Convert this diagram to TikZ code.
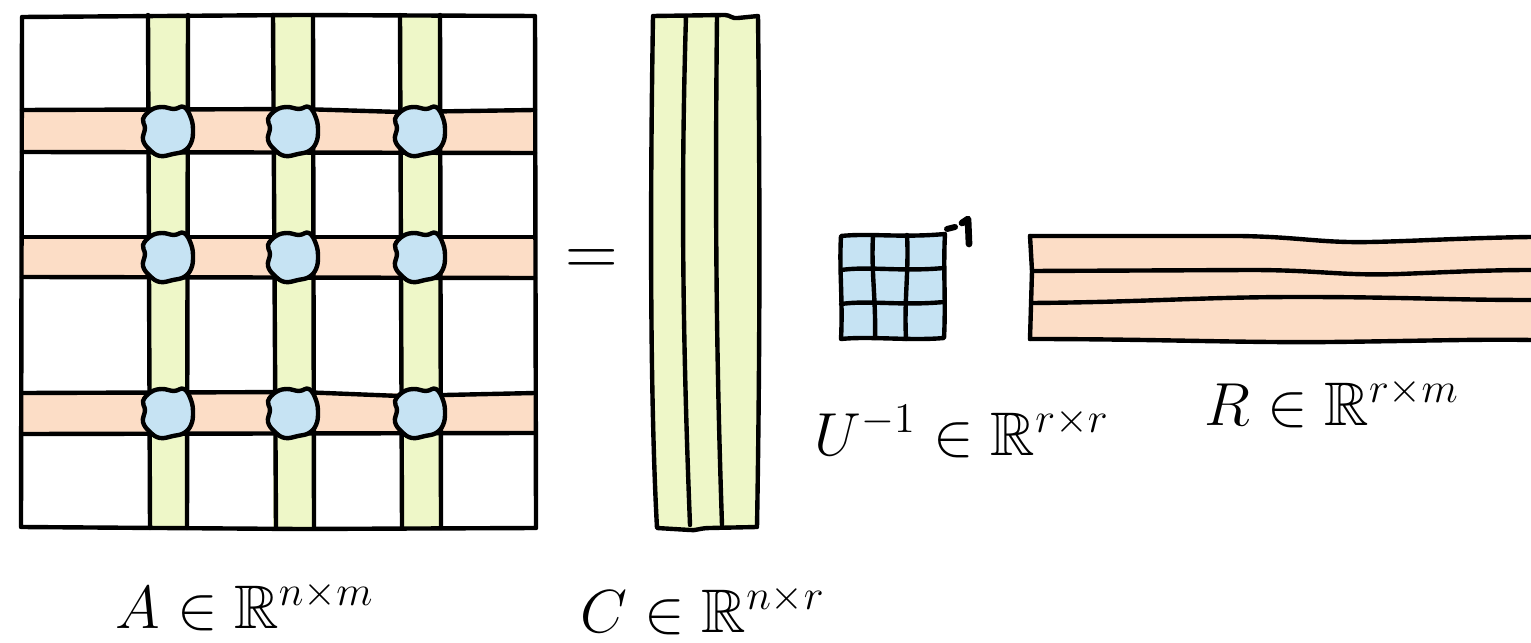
\documentclass[tikz,border=0pt]{standalone}
\usepackage{amsmath,amssymb}
\definecolor{cgreen}{HTML}{EEF7C8}
\definecolor{corange}{HTML}{FCDDC6}
\definecolor{cblue}{HTML}{C6E3F3}
\tikzset{
  ink/.style={line width=1.25pt, line cap=round, line join=round, draw=black},
  blob/.pic={\filldraw[ink, fill=cblue] plot[smooth cycle, tension=0.7] coordinates {(25,0) (23,12) (16,20) (5,23) (-8,25) (-18,19) (-25,9) (-23,-3) (-25,-12) (-17,-21) (-6,-24) (6,-22) (16,-24) (23,-13)};},
  lbl/.style={anchor=base, inner sep=0pt, font=\fontsize{17.5}{20}\selectfont}
}
\begin{document}
\begin{tikzpicture}[x=0.01cm,y=-0.01cm]
\useasboundingbox (0,0) rectangle (1531,643);
% ---------- matrix A ----------
\foreach \a/\b in {148/188, 273/313, 400/440}
  \fill[cgreen] (\a,15) rectangle (\b,528);
\foreach \a/\b in {110/152, 237/277, 393/433}
  \fill[corange] (22,\a) rectangle (535,\b);
\draw[ink] (22,17) -- (300,15) -- (535,16) -- (536,528) -- (300,529) -- (21,527) -- cycle;
\draw[ink] (148,15) -- (150,528);
\draw[ink] (188,15) -- (187,528);
\draw[ink] (273,15) -- (276,528);
\draw[ink] (313,15) -- (314,528);
\draw[ink] (400,15) -- (402,528);
\draw[ink] (440,15) -- (441,528);
\draw[ink] (22,110) -- (300,109) -- (400,112) -- (535,110);
\draw[ink] (22,152) -- (535,153);
\draw[ink] (22,237) -- (535,237);
\draw[ink] (22,277) -- (535,278);
\draw[ink] (22,393) -- (300,392) -- (400,396) -- (535,393);
\draw[ink] (22,434) -- (535,433);
\foreach \x in {168,293,420}
  \foreach \y in {131,257,413}
    \pic at (\x,\y) {blob};
% ---------- equals ----------
\node[inner sep=0pt, font=\fontsize{20}{24}\selectfont] (eq) at (592,263) {$=$};
% ---------- matrix C ----------
\filldraw[ink, fill=cgreen] (653,16) -- (725,15) .. controls (730,15) and (732,19) .. (738,18) -- (758,16)
  .. controls (760,200) and (760,350) .. (757,527) -- (710,528) .. controls (700,528) and (695,531) .. (690,530)
  -- (657,528) .. controls (650,400) and (650,200) .. (653,16) -- cycle;
\draw[ink] (686,16) .. controls (682,150) and (681,300) .. (690,525);
\draw[ink] (717,16) .. controls (715,200) and (716,350) .. (722,525);
% ---------- matrix U ----------
\filldraw[ink, fill=cblue] (841,236) .. controls (870,233) and (900,238) .. (945,234)
  .. controls (943,270) and (946,300) .. (944,338) .. controls (910,341) and (870,336) .. (841,339)
  .. controls (843,300) and (839,270) .. (841,236) -- cycle;
\draw[ink] (873,236) .. controls (871,270) and (876,300) .. (875,338);
\draw[ink] (907,235) .. controls (909,270) and (904,300) .. (906,339);
\draw[ink] (841,270) .. controls (870,266) and (900,272) .. (944,268);
\draw[ink] (841,304) .. controls (870,300) and (900,306) .. (944,302);
\draw[ink, line width=1.7pt] (947,229) -- (955,227);
\draw[ink, line width=1.9pt] (962,223) -- (968,219) -- (969,244);
% ---------- matrix R ----------
\fill[corange] (1030,236) -- (1240,236) .. controls (1300,237) and (1320,243) .. (1370,242)
  .. controls (1420,241) and (1460,238) .. (1531,237) -- (1531,340)
  .. controls (1480,339) and (1420,341) .. (1330,342) .. controls (1250,343) and (1150,339) .. (1030,339) -- cycle;
\draw[ink] (1030,236) -- (1240,236) .. controls (1300,237) and (1320,243) .. (1370,242)
  .. controls (1420,241) and (1460,238) .. (1531,237);
\draw[ink] (1032,271) -- (1250,270) .. controls (1320,270) and (1340,276) .. (1400,274)
  .. controls (1450,272) and (1490,270) .. (1531,270);
\draw[ink] (1032,303) .. controls (1150,302) and (1200,297) .. (1300,297)
  .. controls (1400,297) and (1450,300) .. (1531,300);
\draw[ink] (1030,339) .. controls (1150,339) and (1250,343) .. (1330,342)
  .. controls (1420,341) and (1480,339) .. (1531,340);
\draw[ink] (1030,236) -- (1032,271) -- (1030,339);
% ---------- labels ----------
\node[lbl] (la) at (245,628) {$A\in\mathbb{R}^{n\times m}$};
\node[lbl] (lc) at (703,632) {$C\in\mathbb{R}^{n\times r}$};
\node[lbl] (lu) at (962,455) {$U^{-1}\in\mathbb{R}^{r\times r}$};
\node[lbl] (lr) at (1332,425) {$R\in\mathbb{R}^{r\times m}$};
\end{tikzpicture}
\end{document}
